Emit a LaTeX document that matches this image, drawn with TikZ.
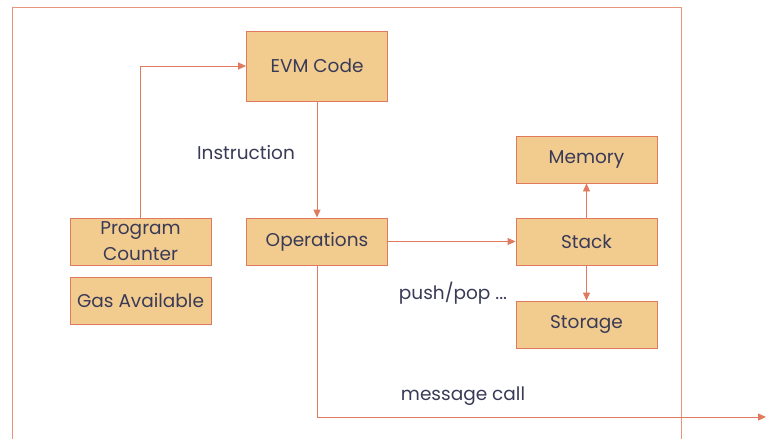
\documentclass[tikz,border=0pt]{standalone}
\usepackage{fontspec}
\setmainfont{Poppins}
\usetikzlibrary{arrows.meta}
\definecolor{boxfill}{HTML}{F2CC8F}
\definecolor{boxline}{HTML}{E07A5F}
\definecolor{ink}{HTML}{393A56}
\begin{document}
\begin{tikzpicture}[x=1pt,y=-1pt,
		unit/.style={draw=boxline,fill=boxfill,line width=0.9pt,minimum width=141pt,minimum height=47pt,
			text=ink,font=\fontsize{18.5}{26}\selectfont,align=center,inner sep=0pt},
		flow/.style={draw=boxline,line width=0.9pt,-{Triangle[length=8pt,width=7pt]}},
		lbl/.style={text=ink,font=\fontsize{18.5}{20}\selectfont}]
		\useasboundingbox (0,0) rectangle (767,439);

		\draw[boxline!80,line width=1pt] (12,439) -- (12,7) -- (681,7) -- (681,439);

		\node[unit,minimum height=70pt] (evm) at (317,66) {EVM Code};
		\node[unit] (pc) at (140.5,241.5) {Program\\Counter};
		\node[unit] (gas) at (140.5,300.5) {Gas Available};
		\node[unit] (ops) at (317,241.5) {Operations};
		\node[unit] (mem) at (586.5,159.5) {Memory};
		\node[unit] (stack) at (586.5,241.5) {Stack};
		\node[unit] (store) at (586.5,324.5) {Storage};

		\draw[flow] (pc.north) |- (evm.west);
		\draw[flow] (evm) -- (ops);
		\draw[flow] (ops) -- (stack);
		\draw[flow] (stack) -- (mem);
		\draw[flow] (stack) -- (store);

		\coordinate (out) at (766,417);
		\draw[flow] (ops.south) |- (out);

		\node[lbl] (instr) at (246,153) {Instruction};
		\node[lbl] (push) at (453,293) {push/pop ...};
		\node[lbl] (msg) at (463,396) {message call};
	\end{tikzpicture}
\end{document}
